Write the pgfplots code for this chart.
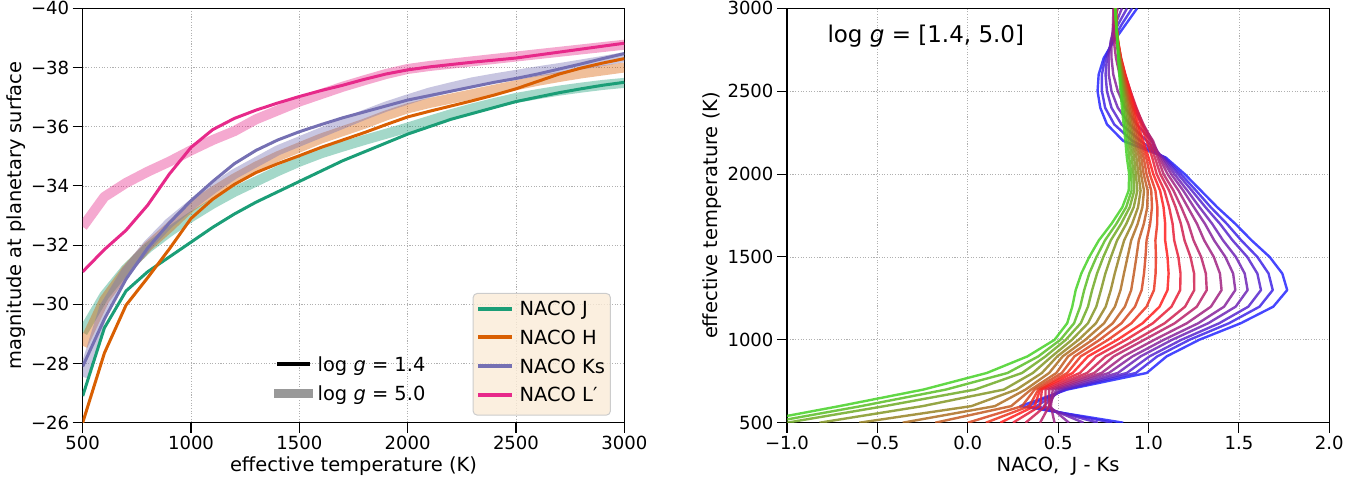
\documentclass[border=0pt]{standalone}
\usepackage{fontspec}
\setmainfont{DejaVu Sans}
\usepackage{pgfplots}
\usepackage{pgfplotstable}
\pgfplotsset{compat=1.18}

% Dark2 colours of the four NACO filters
\definecolor{cJ}{HTML}{1B9E77}
\definecolor{cH}{HTML}{D95F02}
\definecolor{cK}{HTML}{7570B3}
\definecolor{cL}{HTML}{E7298A}
\definecolor{legfill}{HTML}{FAEBD7}
\definecolor{legedge}{HTML}{CCCCCC}
\definecolor{gridc}{HTML}{B0B0B0}
% green -> red -> blue ramp over log g = 1.4 ... 5.0
\definecolor{tGreen}{rgb}{0.27,0.82,0.15}
\definecolor{tRed}{rgb}{1,0.12,0.12}
\definecolor{tBlue}{rgb}{0.15,0.15,1}
\colorlet{k1}{tGreen}
\colorlet{k2}{tRed!11!tGreen}
\colorlet{k3}{tRed!22!tGreen}
\colorlet{k4}{tRed!33!tGreen}
\colorlet{k5}{tRed!44!tGreen}
\colorlet{k6}{tRed!56!tGreen}
\colorlet{k7}{tRed!67!tGreen}
\colorlet{k8}{tRed!78!tGreen}
\colorlet{k9}{tRed!89!tGreen}
\colorlet{k10}{tRed}
\colorlet{k11}{tBlue!11!tRed}
\colorlet{k12}{tBlue!22!tRed}
\colorlet{k13}{tBlue!33!tRed}
\colorlet{k14}{tBlue!44!tRed}
\colorlet{k15}{tBlue!56!tRed}
\colorlet{k16}{tBlue!67!tRed}
\colorlet{k17}{tBlue!78!tRed}
\colorlet{k18}{tBlue!89!tRed}
\colorlet{k19}{tBlue}

% legend keys, set as rules on the text line
\newcommand\bandkey[1]{\textcolor{#1}{\rule[5.1bp]{34bp}{4bp}}\hspace{7.2bp}}
\newcommand\thinkey{\hspace{3bp}\rule[5.1bp]{33bp}{4bp}\hspace{7.5bp}}
\newcommand\thickkey{\textcolor{black!40}{\rule[2.6bp]{39bp}{9bp}}\hspace{4.5bp}}

% surface magnitudes: l = log g 1.4, h = log g 5.0
\pgfplotstableread{
T     Jl      Jh      Hl      Hh      Kl      Kh      Ll      Lh
500  -26.90 -29.05 -26.00 -28.60 -27.90 -27.55 -31.10 -32.62
600  -29.20 -30.30 -28.35 -30.15 -29.50 -29.90 -31.85 -33.63
700  -30.45 -31.20 -29.97 -31.15 -30.85 -31.10 -32.50 -34.10
800  -31.10 -31.90 -30.90 -31.95 -31.90 -32.00 -33.35 -34.48
900  -31.60 -32.45 -31.87 -32.60 -32.75 -32.75 -34.40 -34.82
1000 -32.10 -32.95 -32.90 -33.30 -33.50 -33.35 -35.30 -35.20
1100 -32.60 -33.40 -33.55 -33.80 -34.15 -33.90 -35.90 -35.55
1200 -33.05 -33.80 -34.05 -34.25 -34.75 -34.40 -36.28 -35.85
1300 -33.45 -34.15 -34.45 -34.65 -35.20 -34.80 -36.56 -36.25
1400 -33.80 -34.50 -34.75 -35.00 -35.55 -35.20 -36.80 -36.55
1500 -34.15 -34.82 -35.02 -35.30 -35.83 -35.50 -37.02 -36.85
1600 -34.50 -35.10 -35.30 -35.60 -36.07 -35.80 -37.22 -37.10
1700 -34.85 -35.33 -35.55 -35.85 -36.30 -36.10 -37.40 -37.35
1800 -35.15 -35.55 -35.80 -36.10 -36.50 -36.40 -37.60 -37.57
1900 -35.45 -35.76 -36.07 -36.38 -36.70 -36.68 -37.78 -37.78
2000 -35.75 -35.97 -36.33 -36.62 -36.90 -36.92 -37.92 -37.95
2100 -36.00 -36.20 -36.52 -36.80 -37.05 -37.15 -38.02 -38.05
2200 -36.25 -36.42 -36.70 -36.95 -37.20 -37.33 -38.10 -38.13
2300 -36.45 -36.62 -36.88 -37.10 -37.35 -37.50 -38.18 -38.21
2400 -36.65 -36.80 -37.07 -37.25 -37.50 -37.63 -38.25 -38.29
2500 -36.85 -36.97 -37.28 -37.40 -37.63 -37.75 -38.32 -38.37
2600 -37.00 -37.10 -37.53 -37.55 -37.78 -37.87 -38.42 -38.45
2700 -37.15 -37.22 -37.78 -37.68 -37.95 -37.98 -38.52 -38.53
2800 -37.28 -37.32 -37.98 -37.80 -38.12 -38.10 -38.62 -38.61
2900 -37.40 -37.41 -38.15 -37.90 -38.30 -38.22 -38.72 -38.69
3000 -37.50 -37.48 -38.30 -38.00 -38.47 -38.35 -38.82 -38.77
}\magdata

% J - Ks colour tracks, one column per log g (1.4, 1.6, ..., 5.0)
\pgfplotstableread{
T c1 c2 c3 c4 c5 c6 c7 c8 c9 c10 c11 c12 c13 c14 c15 c16 c17 c18 c19
500 -1.20 -1.10 -1.00 -0.82 -0.60 -0.36 -0.18 0.00 0.10 0.18 0.25 0.32 0.40 0.48 0.56 0.64 0.72 0.80 0.86
600 -0.71 -0.59 -0.46 -0.25 0.02 0.15 0.24 0.30 0.34 0.37 0.40 0.43 0.45 0.46 0.45 0.42 0.38 0.33 0.29
700 -0.245 -0.12 0.04 0.20 0.27 0.32 0.35 0.37 0.39 0.40 0.41 0.43 0.45 0.47 0.49 0.51 0.53 0.54 0.55
800 0.105 0.22 0.30 0.36 0.41 0.45 0.49 0.52 0.55 0.58 0.62 0.66 0.70 0.74 0.78 0.83 0.88 0.93 0.99
900 0.33 0.39 0.43 0.465 0.495 0.525 0.555 0.59 0.625 0.665 0.71 0.762 0.807 0.861 0.911 0.956 1.005 1.048 1.10
1000 0.480 0.512 0.542 0.576 0.613 0.650 0.690 0.730 0.776 0.827 0.875 0.929 0.976 1.032 1.084 1.130 1.181 1.226 1.280
1100 0.550 0.588 0.625 0.665 0.709 0.754 0.802 0.850 0.905 0.967 1.024 1.089 1.145 1.212 1.275 1.330 1.391 1.445 1.510
1200 0.578 0.622 0.665 0.711 0.763 0.814 0.869 0.925 0.989 1.061 1.127 1.202 1.267 1.345 1.418 1.482 1.552 1.614 1.690
1300 0.597 0.644 0.688 0.737 0.791 0.845 0.904 0.962 1.030 1.105 1.175 1.253 1.322 1.404 1.480 1.548 1.622 1.687 1.767
1400 0.628 0.672 0.715 0.761 0.813 0.864 0.919 0.975 1.039 1.111 1.177 1.252 1.317 1.395 1.468 1.532 1.602 1.664 1.740
1500 0.672 0.712 0.750 0.792 0.838 0.884 0.933 0.983 1.041 1.105 1.165 1.232 1.291 1.361 1.425 1.483 1.546 1.602 1.670
1600 0.725 0.759 0.791 0.826 0.865 0.904 0.946 0.989 1.038 1.092 1.142 1.199 1.249 1.308 1.363 1.412 1.465 1.513 1.570
1700 0.795 0.822 0.848 0.877 0.909 0.940 0.974 1.009 1.048 1.092 1.133 1.179 1.220 1.268 1.312 1.352 1.395 1.433 1.480
1800 0.855 0.876 0.896 0.918 0.942 0.966 0.993 1.019 1.049 1.083 1.114 1.150 1.181 1.217 1.251 1.282 1.315 1.344 1.380
1900 0.890 0.906 0.921 0.938 0.956 0.975 0.995 1.015 1.038 1.064 1.088 1.114 1.138 1.166 1.192 1.215 1.240 1.263 1.290
2000 0.893 0.905 0.917 0.930 0.944 0.958 0.973 0.989 1.007 1.026 1.045 1.065 1.083 1.105 1.125 1.143 1.162 1.179 1.200
2100 0.880 0.893 0.907 0.920 0.933 0.947 0.960 0.973 0.987 1.000 1.020 1.035 1.050 1.060 1.070 1.078 1.085 1.090 1.095
2200 0.872 0.883 0.894 0.905 0.916 0.926 0.937 0.948 0.959 0.970 0.990 1.005 1.020 1.025 1.015 0.990 0.955 0.910 0.860
2300 0.862 0.871 0.880 0.889 0.898 0.906 0.915 0.924 0.933 0.942 0.957 0.968 0.972 0.965 0.935 0.895 0.850 0.810 0.770
2400 0.853 0.860 0.867 0.875 0.882 0.889 0.896 0.904 0.911 0.918 0.928 0.933 0.930 0.915 0.870 0.830 0.795 0.760 0.733
2500 0.845 0.851 0.856 0.862 0.867 0.873 0.878 0.884 0.889 0.895 0.900 0.900 0.893 0.872 0.830 0.795 0.770 0.742 0.718
2600 0.838 0.842 0.845 0.849 0.852 0.856 0.859 0.863 0.866 0.870 0.872 0.870 0.862 0.840 0.805 0.780 0.762 0.742 0.724
2700 0.832 0.834 0.836 0.837 0.839 0.841 0.843 0.844 0.846 0.848 0.848 0.845 0.838 0.820 0.795 0.780 0.770 0.760 0.752
2800 0.827 0.828 0.828 0.829 0.829 0.830 0.830 0.831 0.831 0.832 0.830 0.827 0.820 0.808 0.795 0.790 0.795 0.800 0.807
2900 0.821 0.821 0.821 0.821 0.821 0.822 0.822 0.822 0.822 0.822 0.820 0.817 0.812 0.803 0.805 0.815 0.830 0.850 0.872
3000 0.815 0.816 0.816 0.817 0.817 0.818 0.818 0.819 0.819 0.820 0.817 0.814 0.810 0.806 0.830 0.853 0.881 0.909 0.937
}\colordata

\pgfplotsset{
  panel/.style={
    scale only axis, width=541.6bp, height=414.4bp,
    enlargelimits=false,
    axis line style={black, line width=1.1bp},
    tick align=outside, tick pos=left,
    major tick length=10bp,
    major tick style={black, line width=1.1bp},
    grid=major,
    grid style={line width=0.8bp, color=gridc, dash pattern=on 1.1bp off 1.6bp},
    tick label style={font=\fontsize{18.06bp}{21bp}\selectfont},
    label style={font=\fontsize{19.44bp}{23bp}\selectfont},
    xlabel style={at={(axis description cs:0.5,-0.1166)}, anchor=base},
  },
  rulelegend/.style={
    legend cell align=left,
    legend image code/.code={},
  },
  thinline/.style={line width=3bp, line join=round, forget plot},
  thickline/.style={line width=10bp, opacity=0.4, line join=round, forget plot},
  track/.style={line width=2.4bp, opacity=0.85, line join=round},
}

\begin{document}
\begin{tikzpicture}
\useasboundingbox (0bp,0bp) rectangle (1372bp,480bp);

% ---------------- left panel: magnitudes ----------------
\begin{axis}[panel, rulelegend,
  at={(82.7bp,57.3bp)}, anchor=south west,
  xmin=500, xmax=3000, ymin=-40, ymax=-26, y dir=reverse,
  xtick={500,1000,1500,2000,2500,3000},
  xticklabels={500,1000,1500,2000,2500,3000},
  ytick={-40,-38,-36,-34,-32,-30,-28,-26},
  yticklabels={−40,−38,−36,−34,−32,−30,−28,−26},
  xlabel={effective temperature (K)},
  ylabel={magnitude at planetary surface},
  ylabel style={at={(axis description cs:-0.1222,0.5)}, anchor=center},
  legend style={at={(axis description cs:0.720,0.3130)}, anchor=north west,
    fill=legfill, fill opacity=0.8, text opacity=1, draw=legedge,
    line width=1bp, rounded corners=4bp,
    inner xsep=5.3bp, inner ysep=6.4bp, row sep=5.6bp, column sep=0bp,
    font=\fontsize{19.44bp}{23bp}\selectfont,
    nodes={inner sep=0bp, text height=16bp, text depth=7bp}},
]
\addplot[cJ, thickline] table[x=T, y=Jh] {\magdata};
\addplot[cH, thickline] table[x=T, y=Hh] {\magdata};
\addplot[cK, thickline] table[x=T, y=Kh] {\magdata};
\addplot[cL, thickline] table[x=T, y=Lh] {\magdata};
\addplot[cJ, thinline] table[x=T, y=Jl] {\magdata};
\addplot[cH, thinline] table[x=T, y=Hl] {\magdata};
\addplot[cK, thinline] table[x=T, y=Kl] {\magdata};
\addplot[cL, thinline] table[x=T, y=Ll] {\magdata};
\addlegendimage{empty legend}\addlegendentry{\bandkey{cJ}NACO J}
\addlegendimage{empty legend}\addlegendentry{\bandkey{cH}NACO H}
\addlegendimage{empty legend}\addlegendentry{\bandkey{cK}NACO Ks}
\addlegendimage{empty legend}\addlegendentry{\bandkey{cL}NACO L′}
\end{axis}

% gravity key of the left panel
\begin{axis}[rulelegend, scale only axis, width=541.6bp, height=414.4bp,
  at={(82.7bp,57.3bp)}, anchor=south west, hide axis,
  xmin=0, xmax=1, ymin=0, ymax=1,
  legend style={at={(axis description cs:0.3532,0.1631)}, anchor=north west,
    draw=none, fill=none, inner sep=0bp, row sep=6.3bp, column sep=0bp,
    font=\fontsize{19.44bp}{23bp}\selectfont,
    nodes={inner sep=0bp, text height=16bp, text depth=7bp}},
]
\addlegendimage{empty legend}\addlegendentry{\thinkey log \textit{g} = 1.4}
\addlegendimage{empty legend}\addlegendentry{\thickkey log \textit{g} = 5.0}
\end{axis}

% ---------------- right panel: J - Ks colour ----------------
\begin{axis}[panel,
  at={(787bp,57.3bp)}, anchor=south west, width=542.3bp,
  xmin=-1, xmax=2, ymin=500, ymax=3000,
  xtick={-1,-0.5,0,0.5,1,1.5,2},
  xticklabels={−1.0,−0.5,0.0,0.5,1.0,1.5,2.0},
  ytick={500,1000,1500,2000,2500,3000},
  yticklabels={500,1000,1500,2000,2500,3000},
  xlabel={NACO,\ \ J - Ks},
  ylabel={effective temperature (K)},
  ylabel style={at={(axis description cs:-0.1383,0.5)}, anchor=center},
]
\addplot[k19, track] table[x=c19, y=T] {\colordata};
\addplot[k18, track] table[x=c18, y=T] {\colordata};
\addplot[k17, track] table[x=c17, y=T] {\colordata};
\addplot[k16, track] table[x=c16, y=T] {\colordata};
\addplot[k15, track] table[x=c15, y=T] {\colordata};
\addplot[k14, track] table[x=c14, y=T] {\colordata};
\addplot[k13, track] table[x=c13, y=T] {\colordata};
\addplot[k12, track] table[x=c12, y=T] {\colordata};
\addplot[k11, track] table[x=c11, y=T] {\colordata};
\addplot[k10, track] table[x=c10, y=T] {\colordata};
\addplot[k9, track] table[x=c9, y=T] {\colordata};
\addplot[k8, track] table[x=c8, y=T] {\colordata};
\addplot[k7, track] table[x=c7, y=T] {\colordata};
\addplot[k6, track] table[x=c6, y=T] {\colordata};
\addplot[k5, track] table[x=c5, y=T] {\colordata};
\addplot[k4, track] table[x=c4, y=T] {\colordata};
\addplot[k3, track] table[x=c3, y=T] {\colordata};
\addplot[k2, track] table[x=c2, y=T] {\colordata};
\addplot[k1, track] table[x=c1, y=T] {\colordata};
\node[anchor=base west, font=\fontsize{23bp}{27bp}\selectfont]
  at (axis description cs:0.0682,0.917) {log \textit{g} = [1.4, 5.0]};
\end{axis}
\end{tikzpicture}
\end{document}
